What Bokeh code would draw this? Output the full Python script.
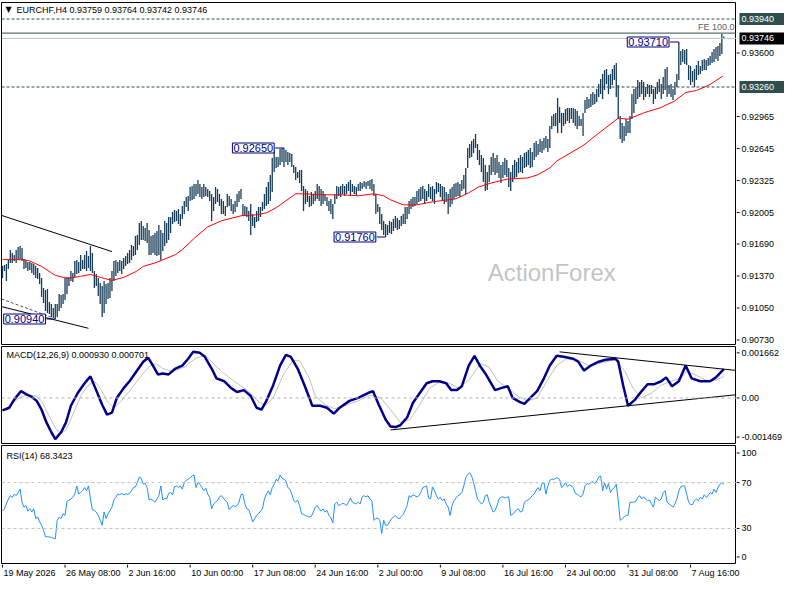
from bokeh.plotting import figure
from bokeh.models import Range1d, Label, Span
from bokeh.layouts import column, row
from bokeh.embed import file_html
from bokeh.resources import INLINE
from bokeh.core.properties import value

# ---------------- data ----------------
SYMBOL = "EURCHF,H4"
LAST_OHLC = [0.93759, 0.93764, 0.93742, 0.93746]

HIGH = [
0.9147, 0.9148, 0.9149, 0.9153, 0.9163, 0.9160, 0.9158, 0.9163, 0.9166, 0.9167,
0.9165, 0.9154, 0.9153, 0.9151, 0.9151, 0.9150, 0.9149, 0.9147, 0.9145, 0.9140,
0.9135, 0.9125, 0.9123, 0.9124, 0.9111, 0.9109, 0.9105, 0.9109, 0.9109, 0.9119,
0.9118, 0.9119, 0.9135, 0.9136, 0.9136, 0.9142, 0.9140, 0.9152, 0.9153, 0.9151,
0.9158, 0.9153, 0.9158, 0.9162, 0.9157, 0.9167, 0.9160, 0.9142, 0.9139, 0.9135,
0.9130, 0.9127, 0.9132, 0.9129, 0.9130, 0.9135, 0.9142, 0.9152, 0.9153, 0.9151,
0.9153, 0.9152, 0.9155, 0.9157, 0.9160, 0.9163, 0.9168, 0.9167, 0.9177, 0.9178,
0.9190, 0.9192, 0.9187, 0.9185, 0.9190, 0.9183, 0.9177, 0.9178, 0.9180, 0.9182,
0.9188, 0.9183, 0.9180, 0.9192, 0.9190, 0.9196, 0.9196, 0.9201, 0.9203, 0.9202,
0.9204, 0.9199, 0.9207, 0.9212, 0.9216, 0.9217, 0.9226, 0.9227, 0.9229, 0.9229,
0.9233, 0.9229, 0.9226, 0.9229, 0.9226, 0.9224, 0.9222, 0.9219, 0.9216, 0.9226,
0.9224, 0.9219, 0.9214, 0.9212, 0.9207, 0.9219, 0.9217, 0.9214, 0.9209, 0.9212,
0.9219, 0.9222, 0.9224, 0.9209, 0.9207, 0.9206, 0.9202, 0.9209, 0.9199, 0.9196,
0.9202, 0.9206, 0.9206, 0.9211, 0.9219, 0.9226, 0.9231, 0.9238, 0.9255, 0.9263,
0.9256, 0.9256, 0.9264, 0.9265, 0.9265, 0.9263, 0.9261, 0.9260, 0.9259, 0.9248,
0.9246, 0.9241, 0.9243, 0.9243, 0.9227, 0.9224, 0.9222, 0.9217, 0.9221, 0.9219,
0.9222, 0.9229, 0.9227, 0.9224, 0.9222, 0.9219, 0.9216, 0.9212, 0.9214, 0.9209,
0.9219, 0.9227, 0.9226, 0.9227, 0.9229, 0.9227, 0.9229, 0.9231, 0.9233, 0.9229,
0.9227, 0.9226, 0.9229, 0.9231, 0.9230, 0.9232, 0.9231, 0.9232, 0.9233, 0.9234,
0.9229, 0.9219, 0.9209, 0.9206, 0.9199, 0.9192, 0.9189, 0.9188, 0.9192, 0.9191,
0.9194, 0.9197, 0.9195, 0.9193, 0.9197, 0.9199, 0.9206, 0.9206, 0.9212, 0.9214,
0.9216, 0.9216, 0.9222, 0.9224, 0.9226, 0.9227, 0.9224, 0.9222, 0.9229, 0.9226,
0.9227, 0.9224, 0.9231, 0.9230, 0.9229, 0.9227, 0.9226, 0.9221, 0.9219, 0.9224,
0.9226, 0.9229, 0.9230, 0.9231, 0.9229, 0.9233, 0.9238, 0.9245, 0.9265, 0.9269,
0.9272, 0.9274, 0.9279, 0.9269, 0.9263, 0.9258, 0.9255, 0.9248, 0.9241, 0.9248,
0.9256, 0.9260, 0.9255, 0.9258, 0.9251, 0.9248, 0.9251, 0.9255, 0.9253, 0.9245,
0.9241, 0.9248, 0.9253, 0.9251, 0.9255, 0.9258, 0.9256, 0.9260, 0.9261, 0.9263,
0.9265, 0.9261, 0.9270, 0.9272, 0.9269, 0.9274, 0.9272, 0.9275, 0.9277, 0.9274,
0.9287, 0.9297, 0.9299, 0.9300, 0.9315, 0.9306, 0.9300, 0.9300, 0.9304, 0.9305,
0.9305, 0.9305, 0.9305, 0.9304, 0.9302, 0.9297, 0.9294, 0.9300, 0.9313, 0.9316,
0.9314, 0.9319, 0.9321, 0.9319, 0.9324, 0.9329, 0.9334, 0.9339, 0.9343, 0.9344,
0.9338, 0.9339, 0.9344, 0.9348, 0.9350, 0.9328, 0.9297, 0.9290, 0.9287, 0.9294,
0.9292, 0.9297, 0.9319, 0.9324, 0.9326, 0.9333, 0.9331, 0.9333, 0.9331, 0.9326,
0.9329, 0.9328, 0.9328, 0.9324, 0.9326, 0.9331, 0.9334, 0.9329, 0.9336, 0.9344,
0.9346, 0.9328, 0.9329, 0.9324, 0.9331, 0.9339, 0.9371, 0.9362, 0.9364, 0.9363,
0.9364, 0.9348, 0.9347, 0.9342, 0.9344, 0.9348, 0.9352, 0.9347, 0.9353, 0.9354,
0.9353, 0.9355, 0.9357, 0.9361, 0.9364, 0.9366, 0.9367, 0.9370, 0.9379, 0.93764,
]

LOW = [
0.9135, 0.9142, 0.9132, 0.9144, 0.9150, 0.9150, 0.9152, 0.9150, 0.9153, 0.9154,
0.9152, 0.9144, 0.9145, 0.9142, 0.9143, 0.9140, 0.9138, 0.9135, 0.9134, 0.9129,
0.9116, 0.9110, 0.9102, 0.9100, 0.9099, 0.9096, 0.9095, 0.9094, 0.9096, 0.9102,
0.9105, 0.9109, 0.9113, 0.9119, 0.9127, 0.9132, 0.9131, 0.9136, 0.9139, 0.9140,
0.9142, 0.9144, 0.9144, 0.9142, 0.9145, 0.9142, 0.9140, 0.9125, 0.9127, 0.9117,
0.9109, 0.9096, 0.9100, 0.9109, 0.9114, 0.9115, 0.9122, 0.9132, 0.9137, 0.9140,
0.9142, 0.9139, 0.9144, 0.9147, 0.9149, 0.9150, 0.9153, 0.9157, 0.9158, 0.9163,
0.9168, 0.9173, 0.9173, 0.9172, 0.9170, 0.9158, 0.9158, 0.9160, 0.9158, 0.9157,
0.9158, 0.9153, 0.9162, 0.9167, 0.9170, 0.9173, 0.9180, 0.9189, 0.9191, 0.9192,
0.9189, 0.9187, 0.9194, 0.9199, 0.9206, 0.9202, 0.9212, 0.9213, 0.9214, 0.9217,
0.9219, 0.9216, 0.9214, 0.9216, 0.9217, 0.9216, 0.9212, 0.9192, 0.9202, 0.9209,
0.9211, 0.9207, 0.9199, 0.9199, 0.9197, 0.9206, 0.9207, 0.9202, 0.9199, 0.9201,
0.9206, 0.9211, 0.9214, 0.9197, 0.9197, 0.9196, 0.9192, 0.9178, 0.9187, 0.9185,
0.9191, 0.9192, 0.9196, 0.9202, 0.9204, 0.9207, 0.9209, 0.9212, 0.9221, 0.9241,
0.9245, 0.9246, 0.9248, 0.9251, 0.9246, 0.9251, 0.9248, 0.9251, 0.9246, 0.9240,
0.9233, 0.9235, 0.9230, 0.9222, 0.9202, 0.9209, 0.9211, 0.9206, 0.9207, 0.9209,
0.9212, 0.9214, 0.9212, 0.9207, 0.9209, 0.9212, 0.9207, 0.9202, 0.9199, 0.9194,
0.9209, 0.9214, 0.9217, 0.9216, 0.9219, 0.9217, 0.9219, 0.9222, 0.9217, 0.9221,
0.9219, 0.9217, 0.9222, 0.9222, 0.9224, 0.9226, 0.9224, 0.9227, 0.9224, 0.9222,
0.9217, 0.9199, 0.9201, 0.9189, 0.9183, 0.9178, 0.9176, 0.9178, 0.9180, 0.9179,
0.9182, 0.9185, 0.9183, 0.9184, 0.9187, 0.9189, 0.9189, 0.9194, 0.9199, 0.9204,
0.9206, 0.9207, 0.9209, 0.9211, 0.9212, 0.9214, 0.9209, 0.9212, 0.9216, 0.9214,
0.9212, 0.9209, 0.9219, 0.9221, 0.9216, 0.9212, 0.9209, 0.9211, 0.9199, 0.9206,
0.9209, 0.9214, 0.9216, 0.9217, 0.9216, 0.9222, 0.9224, 0.9219, 0.9245, 0.9255,
0.9256, 0.9260, 0.9265, 0.9253, 0.9248, 0.9241, 0.9231, 0.9222, 0.9223, 0.9231,
0.9238, 0.9241, 0.9238, 0.9240, 0.9235, 0.9230, 0.9235, 0.9238, 0.9236, 0.9226,
0.9222, 0.9231, 0.9235, 0.9236, 0.9240, 0.9241, 0.9240, 0.9245, 0.9246, 0.9248,
0.9245, 0.9246, 0.9253, 0.9256, 0.9258, 0.9261, 0.9260, 0.9263, 0.9265, 0.9261,
0.9265, 0.9284, 0.9287, 0.9287, 0.9280, 0.9290, 0.9280, 0.9287, 0.9289, 0.9292,
0.9290, 0.9294, 0.9290, 0.9287, 0.9284, 0.9287, 0.9287, 0.9277, 0.9300, 0.9304,
0.9305, 0.9306, 0.9308, 0.9309, 0.9311, 0.9316, 0.9319, 0.9314, 0.9323, 0.9329,
0.9319, 0.9324, 0.9328, 0.9333, 0.9316, 0.9294, 0.9274, 0.9270, 0.9272, 0.9277,
0.9280, 0.9280, 0.9294, 0.9300, 0.9309, 0.9314, 0.9316, 0.9319, 0.9313, 0.9316,
0.9319, 0.9316, 0.9319, 0.9309, 0.9314, 0.9319, 0.9321, 0.9314, 0.9319, 0.9323,
0.9316, 0.9319, 0.9316, 0.9313, 0.9318, 0.9326, 0.9333, 0.9348, 0.9351, 0.9349,
0.9348, 0.9333, 0.9328, 0.9331, 0.9326, 0.9333, 0.9338, 0.9339, 0.9342, 0.9343,
0.9343, 0.9347, 0.9348, 0.9350, 0.9351, 0.9354, 0.9352, 0.9357, 0.9359, 0.93742,
]

MA_X = [0, 10, 13.5, 20, 27, 33.5, 40, 45, 52, 56, 62, 68.5, 72, 78.5, 88.5, 92, 98.5, 105, 112, 122,
        130, 135, 140, 145, 150, 153.5, 163.5, 173.5, 182, 190, 195, 198.5, 205, 212, 220, 232, 238.5,
        243.5, 250, 258.5, 268.5, 273.5, 280, 283.5, 297, 305, 315, 320, 328.5, 337, 340, 343.5, 349.5,
        355, 362, 368.5]
MA_V = [0.91534, 0.91534, 0.91524, 0.91466, 0.91376, 0.91346, 0.91366, 0.91386, 0.91346, 0.91326,
        0.91356, 0.91416, 0.91466, 0.91504, 0.91584, 0.91634, 0.91754, 0.91862, 0.91922, 0.91972,
        0.91982, 0.92002, 0.92052, 0.92122, 0.92192, 0.92192, 0.92182, 0.92182, 0.92172, 0.92192,
        0.92172, 0.92132, 0.92082, 0.92082, 0.92112, 0.92142, 0.92202, 0.92260, 0.92300, 0.92340,
        0.92350, 0.92380, 0.92450, 0.92520, 0.92674, 0.92798, 0.92948, 0.92938, 0.93005, 0.93055,
        0.93085, 0.93115, 0.93205, 0.93225, 0.93285, 0.93370]

MACD_X = [0, 3.5, 6, 9.5, 12, 15, 17.5, 20, 22.5, 25, 27, 30, 32.5, 35, 38.5, 42, 45, 47.5, 51, 53.5,
          56, 58.5, 62, 65, 68.5, 72, 74.5, 77, 79.5, 82, 85, 88.5, 92, 95, 97.5, 101, 103.5, 107, 109.5,
          113.5, 117, 120, 123.5, 127, 130, 132.5, 135, 138.5, 142, 145, 147.5, 151, 154.5, 157, 158.5,
          162.5, 166, 169.5, 172.5, 177.5, 182, 187, 189.5, 192.5, 196, 198.5, 201, 203.5, 207, 210,
          213.5, 217, 220, 223.5, 227, 229.5, 232.5, 235, 238.5, 241.5, 244.5, 247, 252, 255, 258.5, 261,
          264.5, 267, 270, 273.5, 277, 280, 283.5, 287, 292, 294.5, 297.5, 301, 305, 308.5, 313.5, 315,
          317.5, 320, 323.5, 327, 330, 333.5, 337, 339.5, 342.5, 346, 349.5, 352.5, 357, 362, 365, 369]
MACD_V = [-0.000400, -0.000314, -0.000052, 0.000223, 0.000128, 0.000034, -0.000093, -0.000378, -0.000789, -0.001105,
          -0.001327, -0.001105, -0.000789, -0.000251, 0.000160, 0.000476, 0.000698, 0.000318, -0.000220, -0.000536,
          -0.000473, 0.000002, 0.000318, 0.000540, 0.000856, 0.001172, 0.001299, 0.001046, 0.000761, 0.000793,
          0.000761, 0.000951, 0.001046, 0.001267, 0.001489, 0.001457, 0.001330, 0.000951, 0.000635, 0.000540,
          0.000318, 0.000192, 0.000255, 0.000065, -0.000314, -0.000378, -0.000093, 0.000413, 0.001046, 0.001394,
          0.001330, 0.000951, 0.000413, 0.000002, -0.000251, -0.000251, -0.000314, -0.000504, -0.000314, -0.000093,
          0.000002, 0.000160, 0.000223, -0.000220, -0.000694, -0.000920, -0.000940, -0.000880, -0.000631, -0.000156,
          0.000160, 0.000476, 0.000540, 0.000540, 0.000476, 0.000255, 0.000255, 0.000381, 0.001046, 0.001362,
          0.001014, 0.000793, 0.000255, 0.000318, 0.000381, 0.000002, -0.000125, -0.000188, 0.000002, 0.000223,
          0.000635, 0.001046, 0.001362, 0.001330, 0.001267, 0.001172, 0.000888, 0.001046, 0.001172, 0.001235,
          0.001267, 0.001172, 0.000413, -0.000251, -0.000061, 0.000223, 0.000445, 0.000445, 0.000540, 0.000666,
          0.000381, 0.000540, 0.001046, 0.000635, 0.000540, 0.000540, 0.000666, 0.000930]
SIG_X = [0, 3.5, 8.5, 12.5, 17, 20, 23.5, 27.5, 30, 32.5, 36, 40, 43.5, 47, 50, 53.5, 57, 60, 65, 70,
         75, 78.5, 82, 87, 93.5, 98.5, 103.5, 107, 112, 118.5, 125, 130, 134.5, 138.5, 143.5, 148.5, 152,
         157, 160, 165, 170, 175, 182, 188.5, 193.5, 198.5, 203.5, 208.5, 213.5, 218.5, 223.5, 228.5,
         233.5, 238.5, 244.5, 248.5, 253.5, 258.5, 263.5, 268.5, 273.5, 278.5, 283.5, 288.5, 295, 300,
         307, 313.5, 318.5, 322.5, 327, 332, 337, 342, 347, 350, 355, 360, 365, 369]
SIG_V = [-0.000409, -0.000261, 0.000002, 0.000097, 0.000065, -0.000093, -0.000536, -0.001010, -0.001137, -0.001042,
         -0.000536, 0.000065, 0.000381, 0.000540, 0.000318, -0.000093, -0.000314, -0.000156, 0.000223, 0.000635,
         0.001014, 0.001109, 0.000951, 0.000856, 0.001014, 0.001267, 0.001394, 0.001172, 0.000856, 0.000540,
         0.000255, -0.000061, -0.000251, 0.000002, 0.000729, 0.001204, 0.001204, 0.000635, 0.000065, -0.000220,
         -0.000346, -0.000251, -0.000093, 0.000097, 0.000002, -0.000378, -0.000789, -0.000694, -0.000220, 0.000318,
         0.000508, 0.000476, 0.000318, 0.000571, 0.001109, 0.001014, 0.000540, 0.000318, 0.000065, -0.000093,
         0.000002, 0.000540, 0.001046, 0.001267, 0.001204, 0.001046, 0.001141, 0.001235, 0.000856, 0.000318,
         0.000002, 0.000160, 0.000413, 0.000540, 0.000635, 0.000856, 0.000729, 0.000571, 0.000571, 0.000701]

RSI = [
45.1, 47.1, 51.4, 55.7, 58.6, 57.2, 60.0, 58.6, 61.4, 64.3,
52.9, 48.6, 50.0, 45.1, 47.1, 44.3, 47.1, 38.6, 40.0, 35.7,
32.8, 28.5, 22.8, 22.8, 22.5, 22.2, 21.5, 20.8, 37.1, 40.0,
38.6, 42.8, 41.4, 53.6, 54.8, 55.7, 57.2, 60.0, 67.1, 60.0,
61.4, 62.9, 65.7, 62.9, 67.1, 55.7, 46.3, 45.7, 44.3, 41.4,
37.1, 32.8, 44.3, 38.6, 42.8, 45.7, 48.6, 54.8, 57.2, 60.0,
59.4, 60.6, 59.4, 60.0, 60.0, 60.6, 62.9, 65.7, 66.3, 70.0,
74.9, 73.7, 68.6, 69.3, 65.7, 54.8, 55.7, 54.3, 52.9, 55.7,
58.6, 67.1, 54.8, 56.5, 55.7, 60.6, 61.4, 59.4, 66.3, 67.1,
65.7, 67.1, 64.3, 70.0, 72.0, 72.9, 74.3, 75.8, 76.6, 65.7,
70.0, 68.6, 65.7, 62.9, 65.1, 60.0, 57.2, 47.1, 51.4, 52.9,
54.3, 57.6, 58.6, 56.5, 54.3, 52.9, 46.3, 48.6, 50.0, 49.1,
50.0, 52.9, 59.4, 60.0, 51.4, 47.1, 46.3, 41.4, 35.7, 38.6,
41.4, 42.8, 45.1, 47.1, 55.7, 60.0, 62.9, 59.4, 65.7, 68.6,
72.9, 71.5, 76.6, 73.7, 72.9, 71.5, 65.7, 64.3, 60.0, 54.3,
52.9, 54.8, 50.0, 42.8, 42.2, 41.4, 40.6, 40.0, 40.6, 44.3,
48.6, 50.0, 47.1, 45.1, 47.1, 44.3, 45.7, 41.4, 39.3, 34.8,
51.4, 52.9, 50.0, 50.8, 51.9, 51.4, 50.0, 52.9, 56.6, 52.9,
51.9, 51.4, 52.9, 51.4, 57.6, 58.6, 57.6, 58.6, 55.7, 54.3,
37.1, 38.6, 39.3, 37.1, 25.7, 37.1, 32.8, 32.8, 35.7, 38.5,
40.0, 41.4, 39.3, 38.5, 40.5, 42.3, 45.7, 50.0, 58.6, 57.2,
59.4, 58.5, 57.6, 58.6, 61.4, 65.7, 66.5, 67.1, 56.6, 55.7,
66.3, 62.9, 58.6, 55.7, 57.2, 54.3, 55.7, 51.4, 48.6, 41.4,
50.0, 54.3, 56.6, 58.6, 59.4, 61.4, 67.1, 74.3, 77.2, 78.6,
75.8, 70.0, 62.9, 55.7, 53.6, 51.4, 52.9, 58.6, 59.4, 52.9,
48.6, 44.3, 45.7, 50.0, 55.7, 57.2, 57.6, 56.6, 57.2, 57.6,
41.4, 42.3, 44.3, 46.3, 47.1, 44.3, 45.1, 52.9, 54.3, 54.8,
56.6, 58.6, 60.0, 63.5, 65.7, 62.9, 69.2, 70.0, 60.0, 67.1,
72.0, 72.9, 72.9, 73.7, 74.3, 72.9, 65.7, 67.1, 70.0, 66.3,
68.0, 67.1, 65.7, 60.6, 60.0, 58.6, 57.6, 60.0, 67.1, 69.2,
68.6, 70.0, 70.9, 69.2, 71.5, 74.9, 75.8, 62.9, 70.0, 64.3,
69.2, 61.4, 64.3, 65.7, 68.6, 54.3, 37.1, 38.5, 40.0, 41.4,
41.4, 52.9, 52.9, 52.9, 53.6, 57.2, 58.6, 55.7, 57.6, 55.7,
54.3, 54.8, 51.4, 48.6, 57.2, 55.7, 54.3, 55.7, 61.4, 62.9,
52.9, 51.4, 50.0, 48.6, 51.4, 55.7, 62.9, 66.3, 67.1, 67.1,
60.0, 52.9, 50.8, 50.8, 54.3, 55.7, 54.3, 57.2, 55.7, 59.4,
57.2, 58.6, 61.4, 60.0, 64.3, 61.4, 65.7, 68.6, 70.0, 68.3423,
]

DATE_IDX = [0, 32, 64, 96, 128, 160, 192, 224, 256, 288, 320, 352]
DATE_LABELS = ["19 May 2026", "26 May 08:00", "2 Jun 16:00", "10 Jun 00:00", "17 Jun 08:00",
               "24 Jun 16:00", "2 Jul 00:00", "9 Jul 08:00", "16 Jul 16:00", "24 Jul 00:00",
               "31 Jul 08:00", "7 Aug 16:00"]

PRICE_TICKS = [0.93600, 0.92965, 0.92645, 0.92325, 0.92005, 0.91690, 0.91370, 0.91050, 0.90730]
RESISTANCE = 0.93940
SUPPORT = 0.93260
FE100 = 0.93799
LAST = 0.93746

MARK_PRICE = [0.92650, 0.91760, 0.93710, 0.90940]
MARK_IDX = [144, 196, 346, 27]

TL_X0 = [-0.5, -0.5]
TL_Y0 = [0.91976, 0.91064]
TL_X1 = [56, 44]
TL_Y1 = [0.91614, 0.90847]
DASH_X = [-0.5, 25]
DASH_Y = [0.91141, 0.90957]

MTL_X0 = [285, 198.5]
MTL_Y0 = [0.001489, -0.001031]
MTL_X1 = [375.5, 375.5]
MTL_Y1 = [0.000888, 0.000106]

MACD_TOP, MACD_BOT = 0.001662, -0.001469
MACD_TICKS = [0.001456, 0.0, -0.001263]
MACD_TICK_TEXT = ["0.001662", "0.00", "-0.001469"]
RSI_TICKS = [95.8, 70, 30, 5.1]
RSI_TICK_TEXT = ["100", "70", "30", "0"]

# ---------------- layout ----------------
FONT = "Liberation Sans"
AX_W = 48
WM = 784 - AX_W
LB = 1
FW = WM - LB
H1, T1, B1 = 345, 2, 1
H2, T2, B2 = 99, 1, 1
H3, T3, B3 = 120, 1, 1
H4 = 584 - H1 - H2 - H3
FH1, FH2, FH3 = H1 - T1 - B1, H2 - T2 - B2, H3 - T3 - B3

BAR_COLOR = "#163c58"
NAVY = "#000080"
SLATE = "#2F4F4F"
X0, X1 = -0.5, 375.5
xr = Range1d(X0, X1)
PX_PER_BAR = FW / (X1 - X0)


def base(w, h, xrng, yr, top, bot, left, outline=True):
    p = figure(width=w, height=h, x_range=xrng, y_range=yr, title=None,
               output_backend="svg", toolbar_location=None, tools="",
               x_axis_location=None, y_axis_location=None,
               min_border_left=left, min_border_right=0,
               min_border_top=top, min_border_bottom=bot)
    p.grid.visible = False
    p.outline_line_color = "black" if outline else None
    p.background_fill_color = "white"
    p.border_fill_color = "white"
    return p


def side_axis(h, yr, top, bot, ticks, texts):
    a = base(AX_W, h, Range1d(0, AX_W), yr, top, bot, 0, outline=False)
    a.segment(x0=0, y0=ticks, x1=3, y1=ticks, line_color="black", line_width=1)
    a.text(x=5, y=ticks, text=texts, text_font=value(FONT), text_font_size=value("9px"),
           text_color="black", text_align="left", text_baseline="middle")
    return a


def txt(p, x, y, text, size="9px", color="black", font=FONT, **kw):
    lab = Label(x=x, y=y, text=text, text_font=font, text_font_size=size,
                text_color=color, **kw)
    p.add_layout(lab)
    return lab


# ---- main panel ----
yr1 = Range1d(0.90685, 0.94105)
p1 = base(WM, H1, xr, yr1, T1, B1, LB)

txt(p1, 281, 0.91403, "ActionForex", size="24px", color="#c4c4c4",
    text_align="center", text_baseline="middle", level="underlay")

for lvl in (RESISTANCE, SUPPORT):
    p1.add_layout(Span(location=lvl, dimension="width", line_color=SLATE,
                       line_dash="3 2", line_width=1))
p1.add_layout(Span(location=FE100, dimension="width", line_color=SLATE, line_width=1))
p1.add_layout(Span(location=LAST, dimension="width", line_color="#c0c0c0", line_width=1))

IDX = list(range(len(HIGH)))
p1.segment(x0=IDX, y0=LOW, x1=IDX, y1=HIGH, line_color=BAR_COLOR, line_width=1.3)
p1.line(MA_X, MA_V, line_color="red", line_width=1)
p1.segment(x0=TL_X0, y0=TL_Y0, x1=TL_X1, y1=TL_Y1, line_color="black", line_width=1)
p1.line(DASH_X, DASH_Y, line_color="#555555", line_dash="3 2", line_width=1)

for price, idx in zip(MARK_PRICE, MARK_IDX):
    edge = idx - 4.5
    p1.segment(x0=[edge], y0=[price], x1=[idx], y1=[price], line_color=NAVY, line_width=1)
    txt(p1, edge, price, f"{price:.5f}", size="11px", color=NAVY,
        text_align="right", text_baseline="middle", x_offset=-1,
        background_fill_color="white", border_line_color=NAVY, border_line_width=1,
        padding=1)

txt(p1, X1 - 1, FE100, "FE 100.0", color="#596370", text_align="right",
    text_baseline="bottom", y_offset=1)

txt(p1, 4, FH1 - 7, "\u25bc", size="8px", font="DejaVu Sans", x_units="screen",
    y_units="screen", text_baseline="middle")
txt(p1, 15, FH1 - 7, SYMBOL + " " + " ".join(f"{v:.5f}" for v in LAST_OHLC),
    x_units="screen", y_units="screen", text_baseline="middle")

a1 = side_axis(H1, yr1, T1, B1, PRICE_TICKS, [f"{t:.5f}" for t in PRICE_TICKS])
BOX_LVL = [RESISTANCE, LAST, SUPPORT]
BOX_BG = [SLATE, "black", SLATE]
a1.rect(x=AX_W / 2 + 1.5, y=BOX_LVL, width=AX_W - 3, height=12, height_units="screen",
        fill_color=BOX_BG, line_color=None)
a1.text(x=5, y=BOX_LVL, text=[f"{v:.5f}" for v in BOX_LVL], text_font=value(FONT),
        text_font_size=value("9px"), text_color="white", text_align="left",
        text_baseline="middle")

# ---- MACD panel ----
yr2 = Range1d(MACD_BOT, MACD_TOP)
p2 = base(WM, H2, xr, yr2, T2, B2, LB)
p2.add_layout(Span(location=0, dimension="width", line_color="#b4b4b4",
                   line_dash="3 3", line_width=1))
p2.line(SIG_X, SIG_V, line_color="#c0c0c0", line_width=1)
p2.line(MACD_X, MACD_V, line_color="#00008B", line_width=2.5)
p2.segment(x0=MTL_X0, y0=MTL_Y0, x1=MTL_X1, y1=MTL_Y1, line_color="black", line_width=1)
txt(p2, 5, FH2 - 8, f"MACD(12,26,9) {MACD_V[-1]:.6f} {SIG_V[-1]:.6f}",
    x_units="screen", y_units="screen", text_baseline="middle")
a2 = side_axis(H2, yr2, T2, B2, MACD_TICKS, MACD_TICK_TEXT)

# ---- RSI panel ----
yr3 = Range1d(-0.6, 102.4)
p3 = base(WM, H3, xr, yr3, T3, B3, LB)
for lvl in (30, 70):
    p3.add_layout(Span(location=lvl, dimension="width", line_color="#bebebe",
                       line_dash="3 3", line_width=1))
p3.line(IDX, RSI, line_color="#1E90FF", line_width=1)
txt(p3, 5, FH3 - 10, f"RSI(14) {RSI[-1]:.4f}", x_units="screen", y_units="screen",
    text_baseline="middle")
a3 = side_axis(H3, yr3, T3, B3, RSI_TICKS, RSI_TICK_TEXT)

# ---- date row ----
x4 = Range1d(X0, X0 + (784 - LB) / PX_PER_BAR)
p4 = base(784, H4, x4, Range1d(0, H4), 0, 0, LB, outline=False)
p4.segment(x0=DATE_IDX, y0=H4, x1=DATE_IDX, y1=H4 - 3, line_color="black", line_width=1)
p4.text(x=DATE_IDX, y=H4 - 3, text=DATE_LABELS, x_offset=1, text_font=value(FONT),
        text_font_size=value("9px"), text_color="black", text_align="left",
        text_baseline="top")

layout = column(row(p1, a1), row(p2, a2), row(p3, a3), p4, spacing=0)
open("out.html", "w").write(file_html(layout, INLINE))
